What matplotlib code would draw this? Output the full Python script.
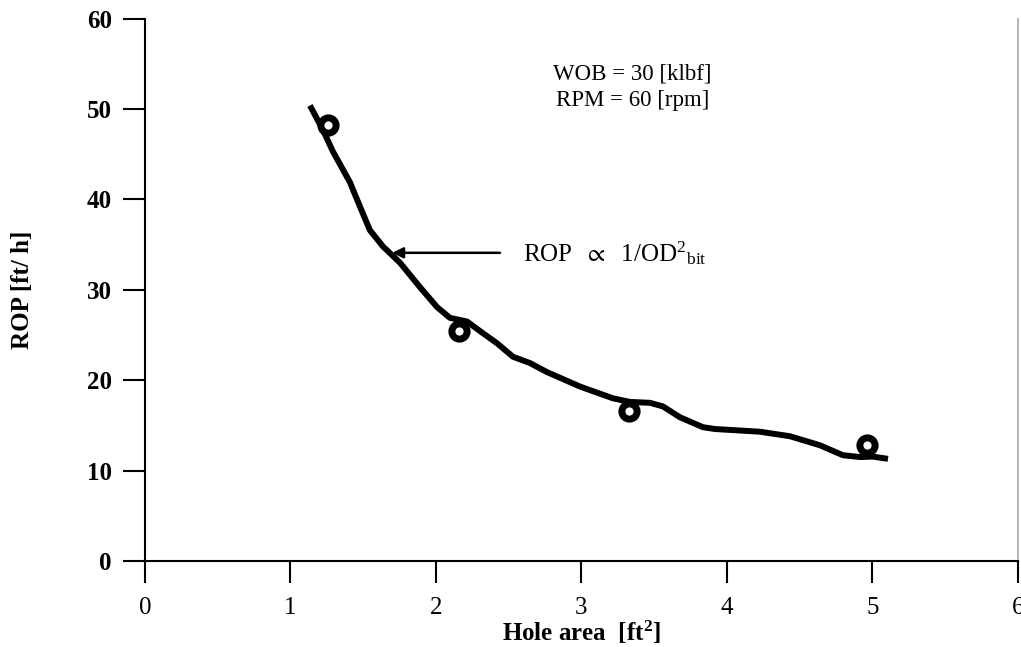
import matplotlib
matplotlib.use("Agg")
import matplotlib.pyplot as plt

plt.rcParams['font.family'] = ['Liberation Serif', 'DejaVu Serif']
plt.rcParams['mathtext.fontset'] = 'custom'
plt.rcParams['mathtext.rm'] = 'Liberation Serif'
plt.rcParams['mathtext.it'] = 'Liberation Serif:italic'
plt.rcParams['mathtext.bf'] = 'Liberation Serif:bold'
plt.rcParams['mathtext.fallback'] = 'stix'

# Trend curve
curve_x = [1.134, 1.223, 1.292, 1.409, 1.478, 1.546, 1.636, 1.753, 1.890, 2.007, 2.096,
           2.213, 2.323, 2.419, 2.529, 2.646, 2.763, 2.990, 3.216, 3.333, 3.471, 3.560,
           3.677, 3.835, 3.918, 4.227, 4.433, 4.639, 4.797, 4.914, 5.000, 5.107]
curve_y = [50.4, 47.7, 45.3, 41.9, 39.2, 36.6, 34.8, 33.0, 30.3, 28.1, 26.9,
           26.5, 25.2, 24.1, 22.6, 21.9, 20.9, 19.3, 18.0, 17.6, 17.5, 17.1,
           15.9, 14.8, 14.6, 14.3, 13.8, 12.8, 11.7, 11.5, 11.55, 11.3]

# Measured points
hole_area = [1.26, 2.16, 3.33, 4.96]
rop = [48.2, 25.4, 16.6, 12.8]

x_ticks = [0, 1, 2, 3, 4, 5, 6]
y_ticks = [0, 10, 20, 30, 40, 50, 60]

fig = plt.figure(figsize=(10.21, 6.47), dpi=100)
ax = fig.add_axes([0.142, 0.133, 0.855, 0.838])

ax.plot(curve_x, curve_y, color='black', lw=4.3, solid_capstyle='butt',
        solid_joinstyle='round', zorder=2)
ax.plot(hole_area, rop, 'o', ms=11, mfc='white', mec='black', mew=5, zorder=3)

ax.set_xlim(0, 6)
ax.set_ylim(0, 60)
ax.set_xticks(x_ticks)
ax.set_yticks(y_ticks)
ax.tick_params(direction='out', length=16, width=1.5)
ax.tick_params(axis='y', labelsize=18, pad=8)
ax.tick_params(axis='x', labelsize=18, pad=10)
for lbl in ax.get_yticklabels():
    lbl.set_fontweight('bold')

ax.spines['top'].set_visible(False)
ax.spines['right'].set_color('#aaaaaa')
ax.spines['right'].set_linewidth(1.2)
ax.spines['left'].set_linewidth(1.5)
ax.spines['bottom'].set_linewidth(1.5)

ax.set_xlabel('Hole area  [ft$^\\mathbf{2}$]', fontsize=18, fontweight='bold', labelpad=0)
ax.set_ylabel('ROP [ft/ h]', fontsize=18, fontweight='bold', labelpad=38)

ax.text(3.35, 53.9, 'WOB = 30 [klbf]', ha='center', va='center', fontsize=16.5)
ax.text(3.35, 50.9, 'RPM = 60 [rpm]', ha='center', va='center', fontsize=16.5)

ax.annotate('', xy=(1.70, 34.1), xytext=(2.44, 34.1),
            arrowprops=dict(arrowstyle='-|>', color='black', lw=1.8,
                            mutation_scale=16, shrinkA=0, shrinkB=0))
ax.text(2.60, 34.1, r'ROP  $\propto$  1/OD$^{2}{}_{\mathrm{bit}}$', ha='left', va='center',
        fontsize=18)

fig.savefig('out.png', dpi=100)
